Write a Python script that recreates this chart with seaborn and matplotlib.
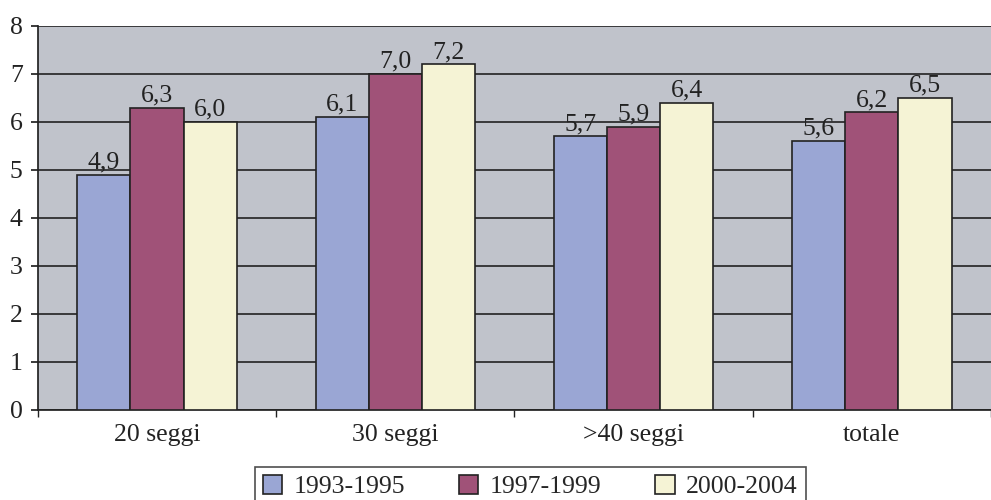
import matplotlib
matplotlib.use("Agg")
import matplotlib.pyplot as plt
import pandas as pd
import seaborn as sns

categories = ["20 seggi", "30 seggi", ">40 seggi", "totale"]
periods = ["1993-1995", "1997-1999", "2000-2004"]
values_1993 = [4.9, 6.1, 5.7, 5.6]
values_1997 = [6.3, 7.0, 5.9, 6.2]
values_2000 = [6.0, 7.2, 6.4, 6.5]
colors = ["#9AA6D4", "#A05278", "#F5F3D5"]

df = pd.DataFrame({
    "categoria": categories * 3,
    "periodo": [p for p in periods for _ in categories],
    "valore": values_1993 + values_1997 + values_2000,
})

sns.set_theme(style="white")
plt.rcParams["font.family"] = ["Liberation Serif", "DejaVu Serif"]

fig = plt.figure(figsize=(9.91, 5), dpi=100)
ax = fig.add_axes([0.0383, 0.18, 0.9617, 0.768])
ax.set_facecolor("#C0C3CB")

sns.barplot(data=df, x="categoria", y="valore", hue="periodo", order=categories,
            hue_order=periods, palette=colors, width=0.67, saturation=1,
            edgecolor="#222222", linewidth=1.2, ax=ax, zorder=3)

for container in ax.containers:
    ax.bar_label(container, labels=[f"{v:.1f}".replace(".", ",") for v in container.datavalues],
                 fontsize=18.5, padding=1, color="#222222")

ax.set_ylim(0, 8)
ax.set_yticks(range(0, 9))
ax.set_xlim(-0.5, 3.454)
ax.yaxis.grid(True, color="#222222", linewidth=1.2, zorder=0)
ax.set_axisbelow(True)
for side in ["top", "right"]:
    ax.spines[side].set_visible(False)
ax.spines["left"].set_color("#222222")
ax.spines["bottom"].set_color("#222222")
ax.set_xlabel("")
ax.set_ylabel("")
ax.tick_params(axis="y", labelsize=18.5, length=5, direction="out", left=True, pad=6, colors="#222222")
ax.tick_params(axis="x", labelsize=18.5, length=0, pad=10, colors="#222222")
ax.set_xticks([-0.5, 0.5, 1.5, 2.5, 3.5], minor=True)
ax.tick_params(axis="x", which="minor", length=5, direction="out", bottom=True, colors="#222222")

ax.get_legend().remove()
handles = [plt.Rectangle((0, 0), 1, 1, facecolor=c, edgecolor="#222222", linewidth=1.2) for c in colors]
leg = fig.legend(handles, periods, loc="upper left", bbox_to_anchor=(0.2573, 0.066), ncol=3,
                 fontsize=18.5, frameon=True, fancybox=False, edgecolor="#222222",
                 handlelength=0.75, handleheight=0.75, columnspacing=2.1, handletextpad=0.45,
                 borderpad=0.3, borderaxespad=0)
leg.get_frame().set_linewidth(1.2)

fig.savefig("out.png", dpi=100)
